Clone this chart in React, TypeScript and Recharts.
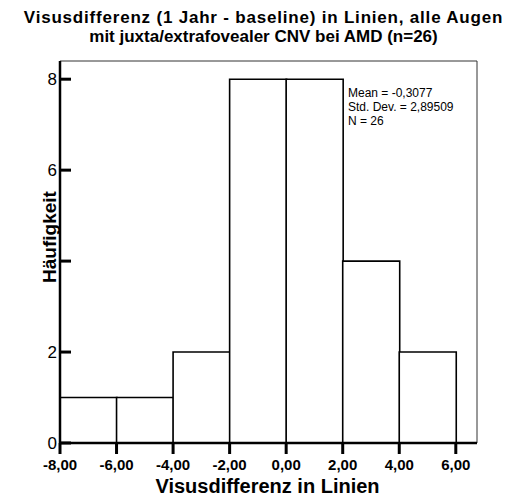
import { ComposedChart, Bar, XAxis, YAxis, ReferenceArea } from "recharts";

// Histogram bins (width 2) and frequencies
const binStarts = [-8, -6, -4, -2, 0, 2, 4];
const counts = [1, 1, 2, 8, 8, 4, 2];
const binWidth = 2;
const xTicks = [-8, -6, -4, -2, 0, 2, 4, 6];
const yTicks = [0, 2, 4, 6, 8];
const hiddenYLabels = [4]; // covered by the axis title in the original
const xDomain = [-8, 6.75];
const yDomain = [0, 8.4];
const statLines = ["Mean = -0,3077", "Std. Dev. = 2,89509", "N = 26"];

const data = binStarts.map((s, i) => ({ mid: s + binWidth / 2, count: counts[i] }));

const font = "'Liberation Sans', Arial, sans-serif";

export default function App() {
  return (
    <div style={{ position: "absolute", left: 0, top: 0, width: 527, height: 500, background: "#fff", fontFamily: font, color: "#000" }}>
      <div style={{ position: "absolute", left: 0, top: 8, width: 527, textAlign: "center", fontWeight: "bold", fontSize: 17, lineHeight: "19px" }}>
        <div style={{ letterSpacing: 0.8 }}>Visusdifferenz (1 Jahr - baseline) in Linien, alle Augen</div>
        <div>mit juxta/extrafovealer CNV bei AMD (n=26)</div>
      </div>
      <ComposedChart
        width={527}
        height={500}
        data={data}
        margin={{ top: 61, right: 50, bottom: 27, left: 20 }}
        barCategoryGap={0}
        barGap={0}
      >
        <ReferenceArea x1={xDomain[0]} x2={xDomain[1]} y1={yDomain[0]} y2={yDomain[1]} fill="none" stroke="#333" strokeWidth={1} />
        <Bar dataKey="count" fill="#fff" stroke="#000" strokeWidth={1.6} isAnimationActive={false} />
        <XAxis
          dataKey="mid"
          type="number"
          domain={xDomain}
          ticks={xTicks}
          interval={0}
          height={30}
          tickFormatter={(v) => v.toFixed(2).replace(".", ",")}
          axisLine={{ stroke: "#000", strokeWidth: 2.5 }}
          tickLine={{ stroke: "#000", strokeWidth: 3 }}
          tickSize={11}
          tickMargin={5}
          tick={{ fontSize: 15, fontWeight: "bold", fill: "#000", fontFamily: font }}
        />
        <YAxis
          type="number"
          domain={yDomain}
          ticks={yTicks}
          interval={0}
          width={40}
          tickFormatter={(v) => (hiddenYLabels.includes(v) ? "" : String(v))}
          axisLine={{ stroke: "#000", strokeWidth: 2.5 }}
          tickLine={{ stroke: "#000", strokeWidth: 3 }}
          tickSize={-11}
          tickMargin={14}
          tick={{ fontSize: 17, fill: "#000", fontFamily: font }}
        />
      </ComposedChart>
      <div style={{ position: "absolute", left: -10, top: 225, width: 120, height: 24, lineHeight: "24px", textAlign: "center", fontWeight: "bold", fontSize: 19, transform: "rotate(-90deg)" }}>
        Häufigkeit
      </div>
      <div style={{ position: "absolute", left: 348, top: 86, fontSize: 12, lineHeight: "14px" }}>
        {statLines.map((t) => (
          <div key={t}>{t}</div>
        ))}
      </div>
      <div style={{ position: "absolute", left: 4, top: 475, width: 527, textAlign: "center", fontWeight: "bold", fontSize: 20, lineHeight: "22px" }}>
        Visusdifferenz in Linien
      </div>
    </div>
  );
}
